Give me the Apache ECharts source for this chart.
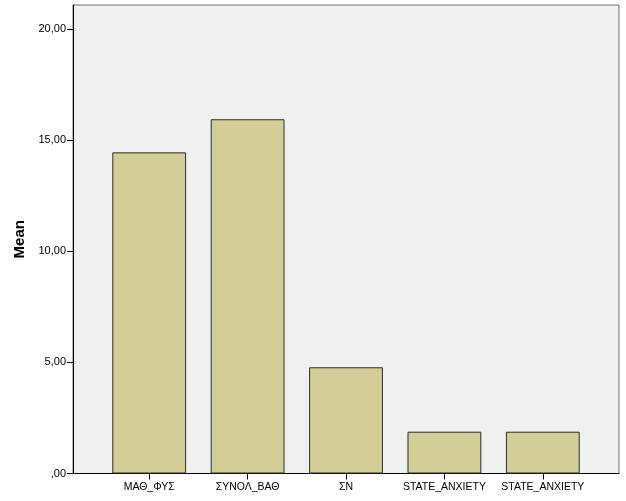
<!DOCTYPE html>
<html><head><meta charset="utf-8">
<script src="https://cdn.jsdelivr.net/npm/echarts@6/dist/echarts.min.js"></script>
<style>html,body{margin:0;padding:0;background:#fff}#c{width:626px;height:501px}</style>
</head><body><div id="c"></div>
<script>
const categories = ['ΜΑΘ_ΦΥΣ', 'ΣΥΝΟΛ_ΒΑΘ', 'ΣΝ', 'STATE_ANXIETY', 'STATE_ANXIETY'];
const means = [14.45, 15.94, 4.78, 1.88, 1.88];
const yTicks = [0, 5, 10, 15, 20];
const yMax = 21.08;

const fmt = v => { let s = v.toFixed(2).replace('.', ','); if (s.startsWith('0,')) s = s.slice(1); return s; };
const chart = echarts.init(document.getElementById('c'), null, {renderer: 'canvas'});
const font = 'Liberation Sans, Arial, sans-serif';
chart.setOption({
  backgroundColor: '#ffffff',
  animation: false,
  grid: [
    {left: 73, right: 7, top: 5, bottom: 27.5, show: true, backgroundColor: '#f0f0f0', borderColor: '#6e6e6e', borderWidth: 1},
    {left: 100, right: 34, top: 5, bottom: 27.5}
  ],
  xAxis: [
    {gridIndex: 0, type: 'category', data: categories, axisLine: {show: true, lineStyle: {color: '#000'}}, axisTick: {show: false}, axisLabel: {show: false}},
    {gridIndex: 1, type: 'category', data: categories, axisLine: {show: false},
     axisTick: {show: true, alignWithLabel: true, length: 6, lineStyle: {color: '#000'}},
     axisLabel: {color: '#000', fontSize: 10.5, fontFamily: font, margin: 8, interval: 0}}
  ],
  yAxis: [
    {gridIndex: 0, type: 'value', min: 0, max: yMax, interval: 5, name: 'Mean', nameLocation: 'middle', nameGap: 41, nameRotate: 90,
     nameTextStyle: {color: '#000', fontSize: 15, fontWeight: 'bold', fontFamily: font},
     axisLine: {show: true, lineStyle: {color: '#000'}}, axisTick: {show: true, length: 6, lineStyle: {color: '#000'}},
     axisLabel: {color: '#000', fontSize: 11, fontFamily: font, margin: 7, showMaxLabel: false,
       formatter: v => yTicks.includes(v) ? fmt(v) : ''},
     splitLine: {show: false}},
    {gridIndex: 1, type: 'value', min: 0, max: yMax, show: false, splitLine: {show: false}}
  ],
  series: [{
    type: 'bar', xAxisIndex: 1, yAxisIndex: 1, data: means, barWidth: '75%',
    itemStyle: {color: '#d3ce97', borderColor: '#2b2b2b', borderWidth: 1}
  }]
});
</script></body></html>
